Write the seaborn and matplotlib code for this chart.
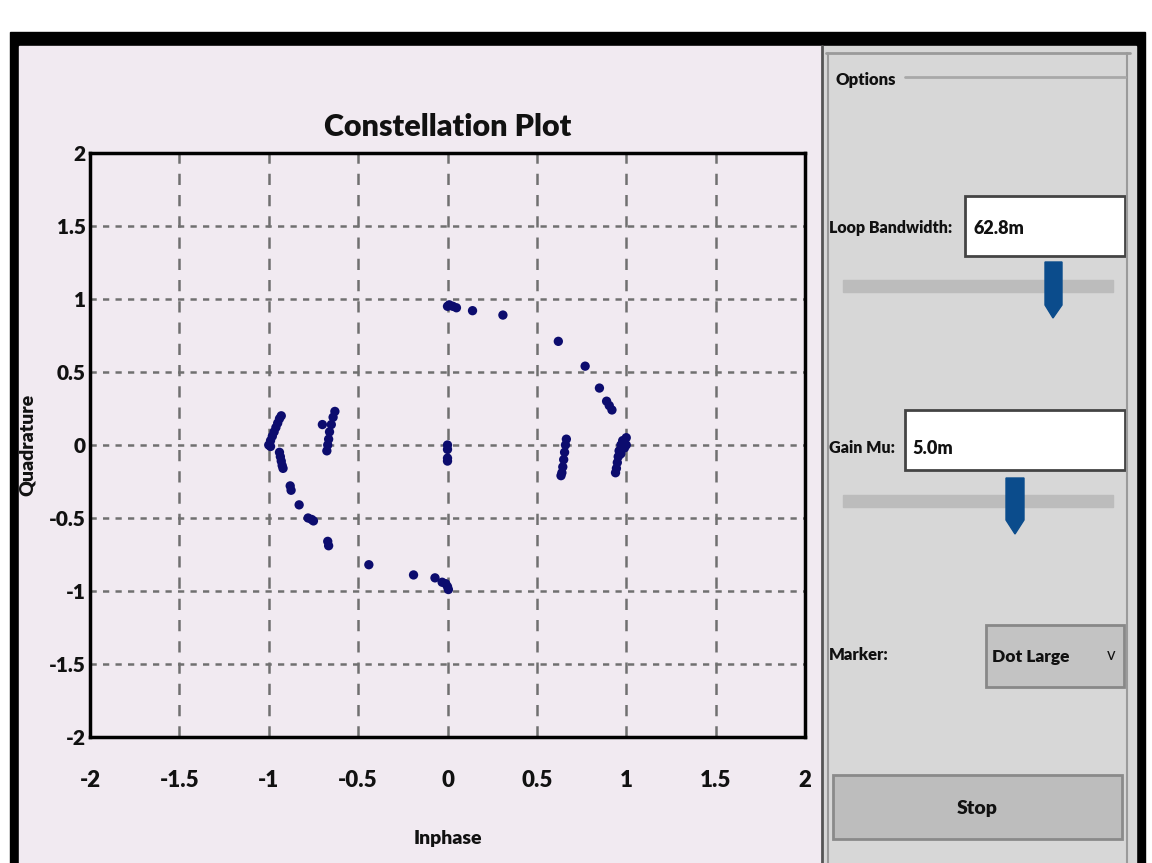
import numpy as np
import pandas as pd
import seaborn as sns
import matplotlib.pyplot as plt
from matplotlib.patches import Rectangle, Polygon

# Constellation samples
inphase = [-1.00, -0.99, -0.98, -0.97, -0.96, -0.95, -0.94, -0.93, -0.99,
           -0.94, -0.935, -0.93, -0.925, -0.92,
           -0.88, -0.875, -0.83, -0.78, -0.76, -0.75, -0.67, -0.665,
           -0.44, -0.19, -0.07, -0.03, -0.01, 0.00, 0.005,
           -0.70, -0.63, -0.64, -0.65, -0.66, -0.665, -0.67, -0.675,
           0.00, 0.01, 0.03, 0.05, 0.14, 0.31, 0.62, 0.77, 0.85, 0.89, 0.905, 0.92,
           0.00, 0.00, 0.00, 0.00,
           0.665, 0.66, 0.655, 0.65, 0.645, 0.64, 0.635,
           1.00, 0.98, 0.97, 0.96, 0.955, 0.95, 0.945, 0.94, 0.99, 1.00, 0.97]
quadrature = [0.00, 0.03, 0.06, 0.09, 0.12, 0.15, 0.18, 0.20, -0.01,
              -0.05, -0.08, -0.11, -0.14, -0.16,
              -0.28, -0.31, -0.41, -0.50, -0.51, -0.52, -0.66, -0.69,
              -0.82, -0.89, -0.91, -0.94, -0.95, -0.97, -0.99,
              0.14, 0.23, 0.19, 0.14, 0.09, 0.04, 0.00, -0.04,
              0.95, 0.96, 0.95, 0.94, 0.92, 0.89, 0.71, 0.54, 0.39, 0.30, 0.27, 0.24,
              0.00, -0.03, -0.09, -0.11,
              0.04, 0.00, -0.05, -0.10, -0.15, -0.19, -0.21,
              0.05, 0.03, 0.00, -0.04, -0.08, -0.12, -0.16, -0.19, -0.02, 0.00, -0.06]
ticks = [-2, -1.5, -1, -0.5, 0, 0.5, 1, 1.5, 2]
tick_labels = ['-2', '-1.5', '-1', '-0.5', '0', '0.5', '1', '1.5', '2']

df = pd.DataFrame({'I': inphase, 'Q': quadrature})

sns.set_style('white')
plt.rcParams['font.family'] = ['Lato', 'DejaVu Sans']
plt.rcParams['font.weight'] = 'heavy'

W, H = 1152, 863
fig = plt.figure(figsize=(W / 100, H / 100), dpi=100)
fig.patch.set_facecolor('white')


def box(x0, y0, x1, y1):
    return [x0 / W, 1 - y1 / H, (x1 - x0) / W, (y1 - y0) / H]


# background layer in pixel coordinates for the GUI frame
bg = fig.add_axes([0, 0, 1, 1])
bg.set_xlim(0, W)
bg.set_ylim(H, 0)
bg.axis('off')
panel = '#f1eaf1'
side = '#d7d7d7'
ink = '#111111'
bg.add_patch(Rectangle((10, 32), 1135, 840, color='black'))
bg.add_patch(Rectangle((19, 46), 803, 830, color=panel))
bg.add_patch(Rectangle((822, 46), 314, 830, color=side))
bg.plot([822, 822], [46, 863], color='#555555', lw=2)
bg.plot([826, 1130], [53, 53], color='#9a9a9a', lw=2)
bg.plot([828, 828], [53, 863], color='#9a9a9a', lw=1.5)
bg.plot([1127, 1127], [53, 863], color='#9a9a9a', lw=1.5)

# Options group
bg.text(836, 80, 'Options', fontsize=12, va='center', ha='left', color=ink)
bg.plot([905, 1125], [77, 77], color='#a8a8a8', lw=2)

# Loop bandwidth
bg.text(829, 228, 'Loop Bandwidth:', fontsize=11.5, va='center', ha='left', color=ink)
bg.add_patch(Rectangle((965, 196), 160, 60, facecolor='white', edgecolor='#444444', lw=2))
bg.text(973, 228, '62.8m', fontsize=13, va='center', ha='left', color=ink)
bg.add_patch(Rectangle((843, 280), 270, 12, color='#bcbcbc'))
bg.add_patch(Polygon([(1045, 262), (1062, 262), (1062, 305), (1053, 318), (1045, 305)],
                     color='#0b4c8c'))

# Gain Mu
bg.text(829, 448, 'Gain Mu:', fontsize=11.5, va='center', ha='left', color=ink)
bg.add_patch(Rectangle((905, 410), 220, 60, facecolor='white', edgecolor='#444444', lw=2))
bg.text(912, 448, '5.0m', fontsize=13, va='center', ha='left', color=ink)
bg.add_patch(Rectangle((843, 495), 270, 12, color='#bcbcbc'))
bg.add_patch(Polygon([(1006, 478), (1024, 478), (1024, 520), (1015, 534), (1006, 520)],
                     color='#0b4c8c'))

# Marker combo
bg.text(829, 655, 'Marker:', fontsize=12, va='center', ha='left', color=ink)
bg.add_patch(Rectangle((986, 625), 138, 62, facecolor='#c3c3c3', edgecolor='#888888', lw=2))
bg.text(992, 657, 'Dot Large', fontsize=12.5, va='center', ha='left', color=ink)
bg.text(1111, 655, 'v', fontsize=12, va='center', ha='center', fontweight='normal', color=ink)

# Stop button
bg.add_patch(Rectangle((833, 775), 289, 64, facecolor='#bdbdbd', edgecolor='#8a8a8a', lw=2))
bg.text(977, 808, 'Stop', fontsize=14, va='center', ha='center', color=ink)

# constellation axes
ax = fig.add_axes(box(90, 153, 805, 737))
ax.set_facecolor(panel)
sns.scatterplot(data=df, x='I', y='Q', ax=ax, color='#0c0c6e', s=45,
                edgecolor='none', zorder=3)
ax.set_xlim(-2, 2)
ax.set_ylim(-2, 2)
ax.set_xticks(ticks)
ax.set_yticks(ticks)
ax.set_xticklabels(tick_labels, fontsize=16, color=ink, fontweight='heavy')
ax.set_yticklabels(tick_labels, fontsize=15, color=ink, fontweight='heavy')
ax.tick_params(axis='x', length=0, pad=24)
ax.tick_params(axis='y', length=0, pad=3)
ax.xaxis.grid(True, color='#707070', lw=1.8, linestyle=(0, (4.5, 4)))
ax.yaxis.grid(True, color='#707070', lw=1.8, linestyle=(0, (2.5, 2.5)))
ax.set_axisbelow(True)
for sp in ax.spines.values():
    sp.set_visible(True)
    sp.set_linewidth(2.5)
    sp.set_color('black')
ax.set_xlabel('Inphase', fontsize=14, fontweight='heavy', color=ink)
ax.xaxis.set_label_coords(0.5, -0.16)
ax.set_ylabel('Quadrature', fontsize=14, fontweight='heavy', color=ink)
ax.yaxis.set_label_coords(-0.075, 0.5)
ax.set_title('Constellation Plot', fontsize=22, fontweight='heavy', pad=12, color=ink)

fig.savefig('out.png', dpi=100, facecolor=fig.get_facecolor())
